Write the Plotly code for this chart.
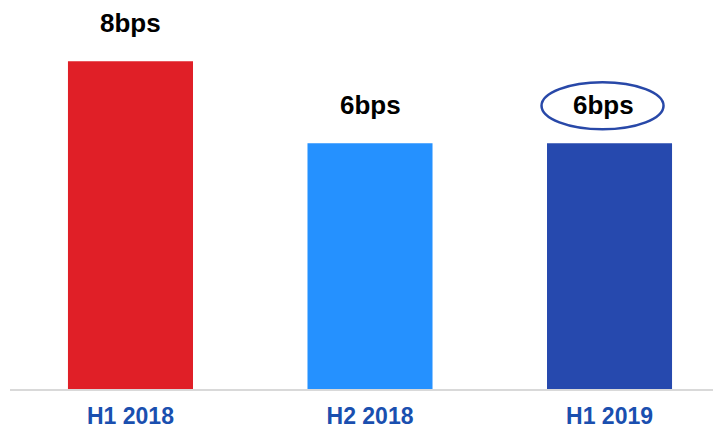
import plotly.graph_objects as go

# Half-year periods and the value shown for each
periods = ["H1 2018", "H2 2018", "H1 2019"]
values_bps = [8, 6, 6]
bar_colors = ["#E01F27", "#2591FF", "#2649AE"]
value_labels = [f"{v}bps" for v in values_bps]
highlight_index = 2

fig = go.Figure(
    go.Bar(
        x=periods,
        y=values_bps,
        marker=dict(color=bar_colors, line=dict(width=0)),
        hoverinfo="skip",
    )
)

# Value labels above each bar (the circled one sits a little left of centre)
for i, (p, v, lab) in enumerate(zip(periods, values_bps, value_labels)):
    fig.add_annotation(
        x=p, y=v, text=f"<b>{lab}</b>", showarrow=False,
        yanchor="middle", yshift=38,
        xshift=-6 if i == highlight_index else 0,
        font=dict(family="Liberation Sans, Arial, sans-serif", size=26, color="#000000"),
    )

# Oval marking the latest period's label
fig.add_shape(
    type="circle",
    xref="x", yref="y",
    xsizemode="pixel", ysizemode="pixel",
    xanchor=highlight_index, yanchor=values_bps[highlight_index],
    x0=-68, x1=54, y0=14, y1=61,
    line=dict(color="#2848A8", width=2.5),
    fillcolor="rgba(0,0,0,0)",
)

fig.update_layout(
    width=723, height=428,
    margin=dict(l=10, r=10, t=4, b=39),
    paper_bgcolor="white", plot_bgcolor="white",
    bargap=0.478,
    showlegend=False,
    xaxis=dict(
        range=[-0.503, 2.432],
        automargin=False,
        showline=True, linecolor="#D9D9D9", linewidth=2,
        showgrid=False, zeroline=False, ticks="",
        ticklabelstandoff=5,
        tickfont=dict(family="Liberation Sans, Arial, sans-serif", size=23, color="#1A4FAF", weight="bold"),
    ),
    yaxis=dict(range=[0, 9.4], visible=False, showgrid=False, zeroline=False, automargin=False),
)

fig.write_html("out.html")
